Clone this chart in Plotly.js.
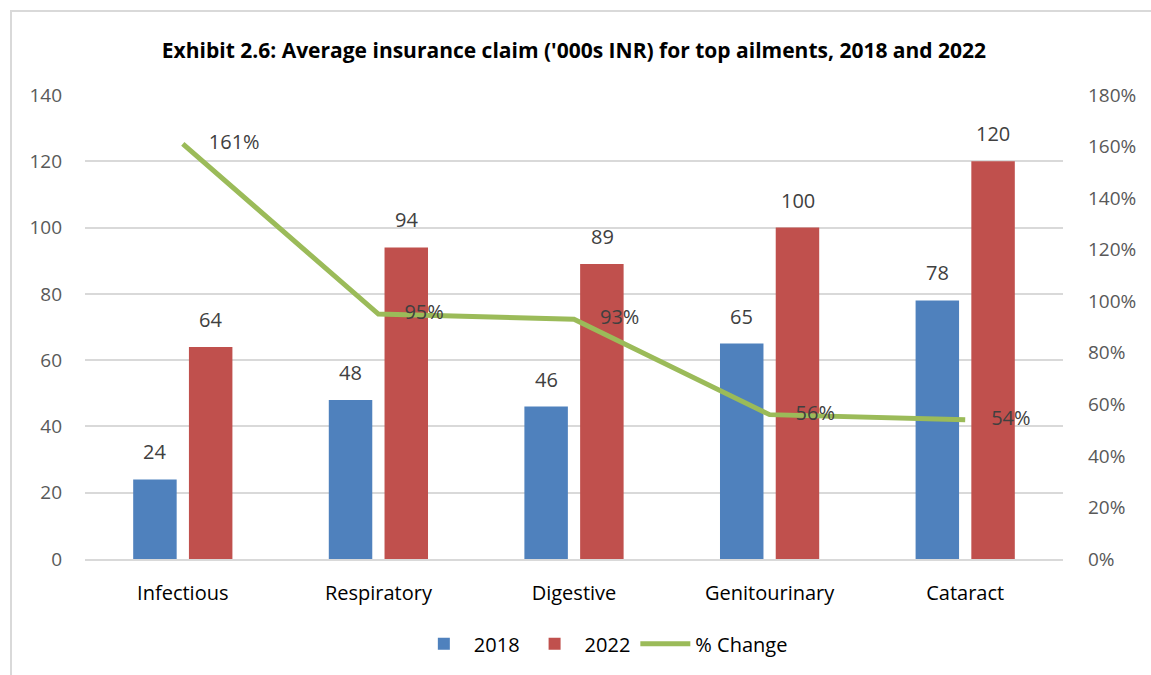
<!DOCTYPE html>
<html>
<head>
<meta charset="utf-8">
<script src="https://cdn.plot.ly/plotly-3.0.1.min.js"></script>
<style>
  body { margin: 0; background: #fff; }
  #frame { position: absolute; left: 10px; top: 10px; width: 1141px; height: 665px;
           border-left: 2px solid #d9d9d9; border-top: 2px solid #d9d9d9; box-sizing: border-box; }
  #plot { position: absolute; left: 10px; top: 10px; width: 1141px; height: 665px; }
</style>
</head>
<body>
<div id="frame"></div>
<div id="plot"></div>
<script>
// ailment categories and claim values ('000s INR)
var ailments = ["Infectious", "Respiratory", "Digestive", "Genitourinary", "Cataract"];
var claims2018 = [24, 48, 46, 65, 78];
var claims2022 = [64, 94, 89, 100, 120];
var pctChange = [1.61, 0.95, 0.93, 0.56, 0.54];

var fontFam = "'Open Sans', sans-serif";

var trace1 = {
  x: ailments,
  y: claims2018,
  name: "2018",
  type: "bar",
  marker: {color: "#4f81bd"}
};

var trace2 = {
  x: ailments,
  y: claims2022,
  name: "2022",
  type: "bar",
  marker: {color: "#c0504d"}
};

// big see-through markers just push the % labels off the line
var trace3 = {
  x: ailments,
  y: pctChange,
  yaxis: "y2",
  name: "% Change",
  type: "scatter",
  mode: "lines+markers+text",
  texttemplate: "%{y:.0%}",
  textposition: "middle right",
  textfont: {size: 20, color: "#404040"},
  marker: {size: 40, color: "rgba(0,0,0,0)"},
  cliponaxis: false,
  line: {color: "#9bbb59", width: 5}
};

var data = [trace1, trace2, trace3];

// value labels above the bars, a bit clear of the bar tops
var annotations = [];
ailments.forEach(function (a, i) {
  [[claims2018, -28], [claims2022, 28]].forEach(function (s) {
    annotations.push({
      x: a, y: s[0][i], text: String(s[0][i]),
      xshift: s[1], yshift: 12, yanchor: "bottom",
      showarrow: false,
      font: {size: 20, color: "#404040"}
    });
  });
});

var layout = {
  width: 1141,
  height: 665,
  margin: {l: 75, r: 88, t: 85, b: 116},
  paper_bgcolor: "rgba(0,0,0,0)",
  plot_bgcolor: "#fff",
  font: {family: fontFam, size: 19, color: "#595959"},
  title: {
    text: "<b>Exhibit 2.6: Average insurance claim ('000s INR) for top ailments, 2018 and 2022</b>",
    font: {size: 21, color: "#000"},
    x: 0.5, xref: "paper", y: 0.95, yref: "container"
  },
  barmode: "group",
  bargap: 0.43,
  bargroupgap: 0.22,
  annotations: annotations,
  xaxis: {
    tickfont: {size: 20, color: "#000"},
    showline: true, linecolor: "#d9d9d9", linewidth: 1.5,
    ticks: "", ticklabelstandoff: 15,
    automargin: false
  },
  yaxis: {
    range: [0, 140], dtick: 20,
    gridcolor: "#d9d9d9", gridwidth: 1.5,
    zeroline: false,
    ticks: "", ticklabelstandoff: 22,
    tickfont: {size: 19, color: "#595959"},
    automargin: false
  },
  yaxis2: {
    overlaying: "y", side: "right",
    range: [0, 1.8], dtick: 0.2, tickformat: ".0%",
    showgrid: false, zeroline: false,
    ticklabelstandoff: 24,
    tickfont: {size: 19, color: "#595959"},
    automargin: false
  },
  legend: {
    orientation: "h",
    x: 0.53, xanchor: "center",
    y: 0.047, yref: "container", yanchor: "middle",
    font: {size: 20, color: "#000"},
    traceorder: "normal",
    itemwidth: 50
  },
  showlegend: true
};

Plotly.newPlot("plot", data, layout, {displayModeBar: false});
</script>
</body>
</html>
